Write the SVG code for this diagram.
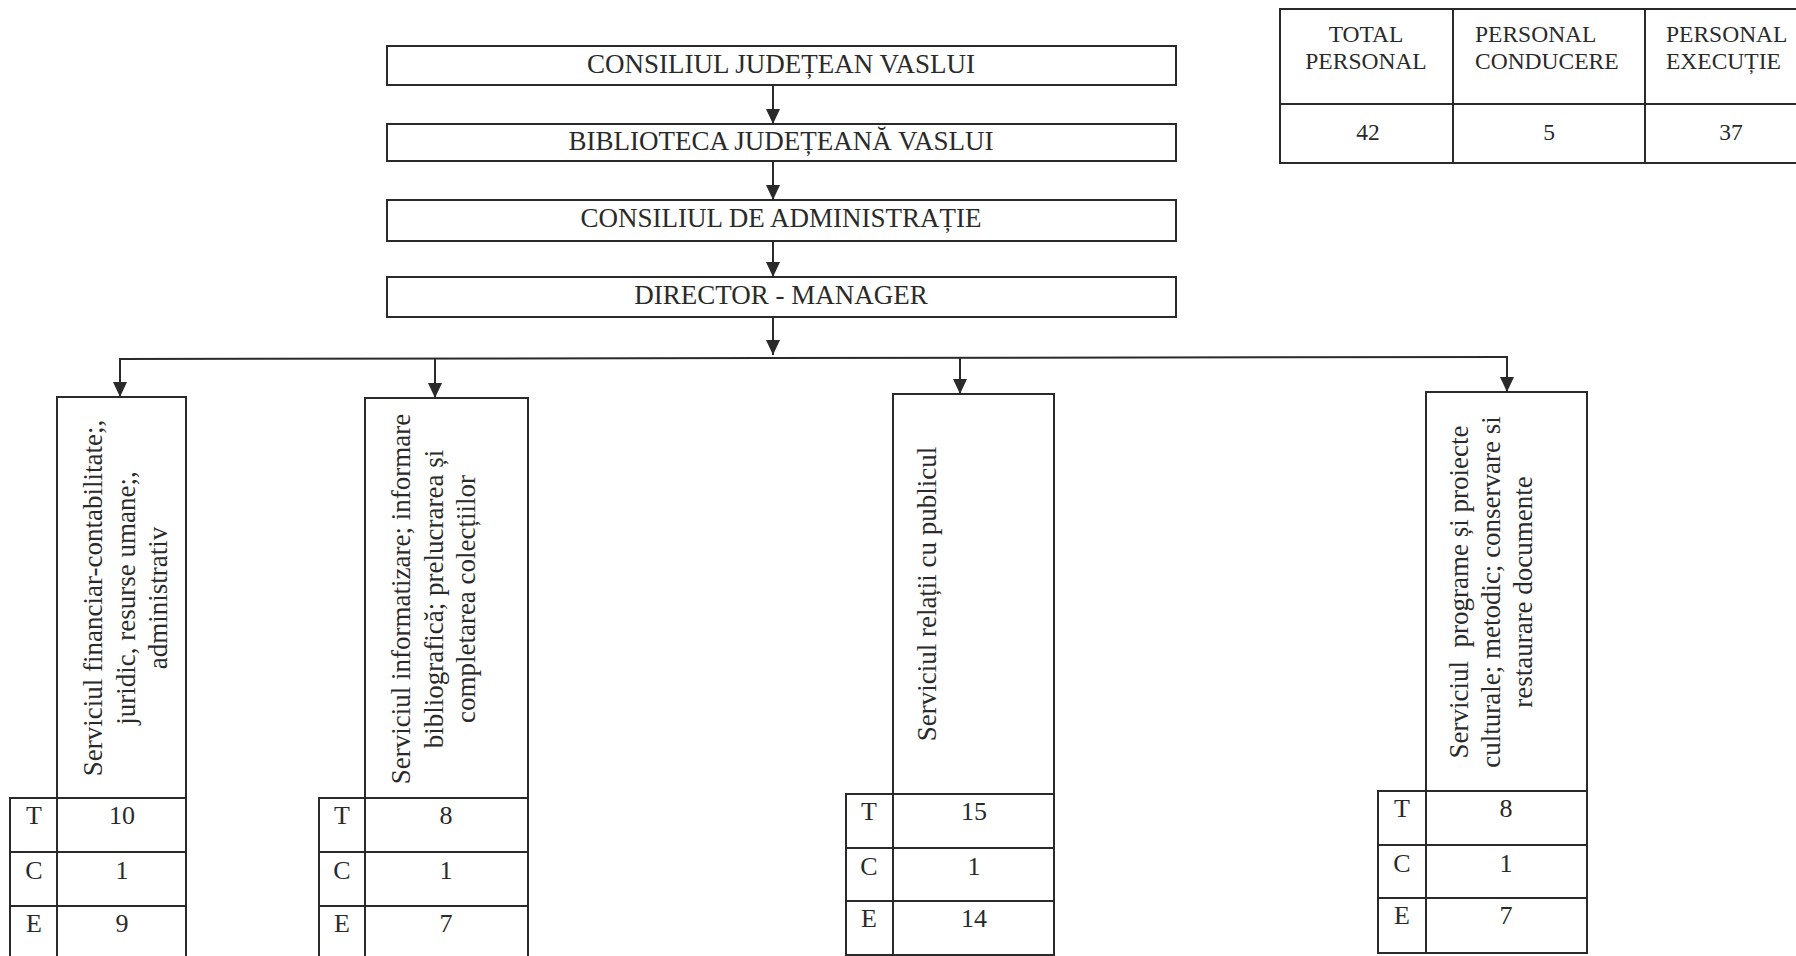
<svg xmlns="http://www.w3.org/2000/svg" width="1796" height="956" viewBox="0 0 1796 956">
<defs>
<style>
.box{fill:#fff;stroke:#2a2a2a;stroke-width:2}
.cell{fill:none;stroke:#2a2a2a;stroke-width:2}
.t{font-family:"Liberation Serif","Times New Roman",serif;fill:#2a2a2a}
.hd{font-size:27px;text-anchor:middle}
.tb{font-size:23.5px}
.v{font-size:27px;text-anchor:middle}
.n{font-size:26px;text-anchor:middle}
.con{fill:none;stroke:#2a2a2a;stroke-width:2}
</style>
<marker id="arr" markerUnits="userSpaceOnUse" markerWidth="15" markerHeight="14" refX="15" refY="7" orient="auto" viewBox="0 0 15 14">
<path d="M0,0 L15,7 L0,14 z" fill="#2a2a2a"/>
</marker>
</defs>
<rect width="1796" height="956" fill="#fff"/>

<g id="summary-table">
<rect class="cell" x="1280" y="9" width="540" height="154"/>
<line class="cell" x1="1453" y1="9" x2="1453" y2="163"/>
<line class="cell" x1="1645" y1="9" x2="1645" y2="163"/>
<line class="cell" x1="1280" y1="104" x2="1820" y2="104"/>
<text class="t tb" text-anchor="middle" x="1366" y="42">TOTAL</text>
<text class="t tb" text-anchor="middle" x="1366" y="69">PERSONAL</text>
<text class="t tb" x="1475" y="42">PERSONAL</text>
<text class="t tb" x="1475" y="69">CONDUCERE</text>
<text class="t tb" x="1666" y="42">PERSONAL</text>
<text class="t tb" x="1666" y="69">EXECUȚIE</text>
<text class="t tb" text-anchor="middle" x="1368" y="140">42</text>
<text class="t tb" text-anchor="middle" x="1549" y="140">5</text>
<text class="t tb" text-anchor="middle" x="1731" y="140">37</text>
</g>

<g id="consiliul-judetean">
<rect class="box" x="387" y="46" width="789" height="39"/>
<text class="t hd" x="781" y="73">CONSILIUL JUDEȚEAN VASLUI</text>
</g>
<g id="biblioteca">
<rect class="box" x="387" y="124" width="789" height="37"/>
<text class="t hd" x="781" y="150">BIBLIOTECA JUDEȚEANĂ VASLUI</text>
</g>
<g id="consiliul-administratie">
<rect class="box" x="387" y="200" width="789" height="41"/>
<text class="t hd" x="781" y="227">CONSILIUL DE ADMINISTRAȚIE</text>
</g>
<g id="director">
<rect class="box" x="387" y="277" width="789" height="40"/>
<text class="t hd" x="781" y="304">DIRECTOR - MANAGER</text>
</g>

<g id="connectors">
<line class="con" x1="773" y1="85" x2="773" y2="124" marker-end="url(#arr)"/>
<line class="con" x1="773" y1="161" x2="773" y2="200" marker-end="url(#arr)"/>
<line class="con" x1="773" y1="241" x2="773" y2="277" marker-end="url(#arr)"/>
<line class="con" x1="773" y1="317" x2="773" y2="355" marker-end="url(#arr)"/>
<line class="con" x1="119" y1="359" x2="1508" y2="357"/>
<line class="con" x1="120" y1="359" x2="120" y2="397" marker-end="url(#arr)"/>
<line class="con" x1="435" y1="358" x2="435" y2="398" marker-end="url(#arr)"/>
<line class="con" x1="960" y1="358" x2="960" y2="394" marker-end="url(#arr)"/>
<line class="con" x1="1507" y1="357" x2="1507" y2="392" marker-end="url(#arr)"/>
</g>

<g id="serviciu-financiar">
<rect class="box" x="57" y="397" width="129" height="401"/>
<text class="t v" transform="translate(102,598) rotate(-90)"><tspan x="0" dy="0">Serviciul financiar-contabilitate;,</tspan><tspan x="0" dy="32.5">juridic, resurse umane;,</tspan><tspan x="0" dy="32.5">administrativ</tspan></text>
<rect class="cell" x="10" y="798" width="47" height="162"/>
<rect class="cell" x="57" y="798" width="129" height="162"/>
<line class="cell" x1="10" y1="852" x2="186" y2="852"/>
<line class="cell" x1="10" y1="906" x2="186" y2="906"/>
<text class="t n" x="34" y="824">T</text><text class="t n" x="122" y="824">10</text>
<text class="t n" x="34" y="879">C</text><text class="t n" x="122" y="879">1</text>
<text class="t n" x="34" y="932">E</text><text class="t n" x="122" y="932">9</text>
</g>

<g id="serviciu-informatizare">
<rect class="box" x="365" y="398" width="163" height="400"/>
<text class="t v" transform="translate(410,599) rotate(-90)"><tspan x="0" dy="0">Serviciul informatizare; informare</tspan><tspan x="0" dy="32.5">bibliografică; prelucrarea și</tspan><tspan x="0" dy="32.5">completarea colecțiilor</tspan></text>
<rect class="cell" x="319" y="798" width="46" height="162"/>
<rect class="cell" x="365" y="798" width="163" height="162"/>
<line class="cell" x1="319" y1="852" x2="528" y2="852"/>
<line class="cell" x1="319" y1="906" x2="528" y2="906"/>
<text class="t n" x="342" y="824">T</text><text class="t n" x="446" y="824">8</text>
<text class="t n" x="342" y="879">C</text><text class="t n" x="446" y="879">1</text>
<text class="t n" x="342" y="932">E</text><text class="t n" x="446" y="932">7</text>
</g>

<g id="serviciu-relatii">
<rect class="box" x="893" y="394" width="161" height="400"/>
<text class="t v" transform="translate(936,594) rotate(-90)">Serviciul relații cu publicul</text>
<rect class="cell" x="846" y="794" width="47" height="161"/>
<rect class="cell" x="893" y="794" width="161" height="161"/>
<line class="cell" x1="846" y1="848" x2="1054" y2="848"/>
<line class="cell" x1="846" y1="901" x2="1054" y2="901"/>
<text class="t n" x="869" y="820">T</text><text class="t n" x="974" y="820">15</text>
<text class="t n" x="869" y="875">C</text><text class="t n" x="974" y="875">1</text>
<text class="t n" x="869" y="927">E</text><text class="t n" x="974" y="927">14</text>
</g>

<g id="serviciu-programe">
<rect class="box" x="1426" y="392" width="161" height="399"/>
<text class="t v" transform="translate(1468,592) rotate(-90)" xml:space="preserve"><tspan x="0" dy="0">Serviciul  programe și proiecte</tspan><tspan x="0" dy="32">culturale; metodic; conservare si</tspan><tspan x="0" dy="32">restaurare documente</tspan></text>
<rect class="cell" x="1378" y="791" width="48" height="162"/>
<rect class="cell" x="1426" y="791" width="161" height="162"/>
<line class="cell" x1="1378" y1="845" x2="1587" y2="845"/>
<line class="cell" x1="1378" y1="898" x2="1587" y2="898"/>
<text class="t n" x="1402" y="817">T</text><text class="t n" x="1506" y="817">8</text>
<text class="t n" x="1402" y="872">C</text><text class="t n" x="1506" y="872">1</text>
<text class="t n" x="1402" y="924">E</text><text class="t n" x="1506" y="924">7</text>
</g>
</svg>
